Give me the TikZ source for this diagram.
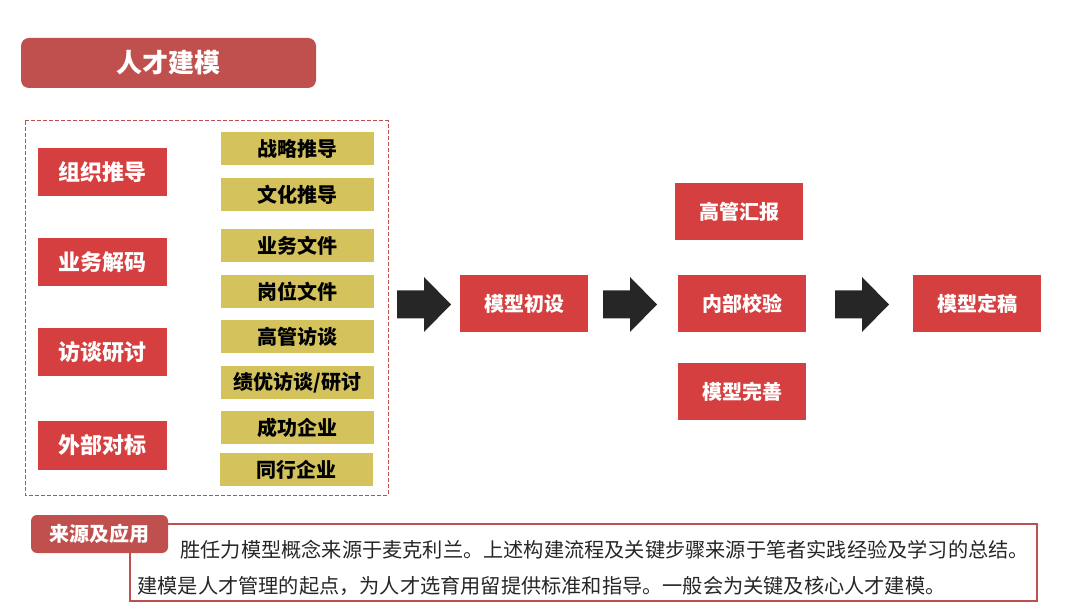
\documentclass[tikz,border=0pt]{standalone}
\usepackage{fontspec}
\setmainfont{Noto Sans CJK SC}
\usetikzlibrary{positioning}
\definecolor{titlered}{HTML}{C0504D}
\definecolor{boxred}{HTML}{D63F3F}
\definecolor{boxyellow}{HTML}{D4C35C}
\definecolor{arrowblack}{HTML}{262626}
\tikzset{
  titlebox/.style={fill=titlered, rounded corners=4pt, text=white,
    minimum width=147.5pt, minimum height=25pt, inner sep=0pt,
    font=\bfseries\fontsize{13}{15}\selectfont},
  srcbox/.style={fill=boxred, text=white, minimum width=64.5pt,
    minimum height=24pt, inner sep=0pt, font=\bfseries\fontsize{11}{13}\selectfont},
  itembox/.style={fill=boxyellow, text=black, minimum width=76.5pt,
    minimum height=16.5pt, inner sep=0pt, font=\bfseries\fontsize{10}{12}\selectfont},
  flowbox/.style={fill=boxred, text=white, minimum width=64pt,
    minimum height=28.5pt, inner sep=0pt, font=\bfseries\fontsize{10}{12}\selectfont},
  tabbox/.style={fill=titlered, rounded corners=3pt, text=white,
    minimum width=68.5pt, minimum height=19pt, inner sep=0pt,
    font=\bfseries\fontsize{10}{12}\selectfont},
  noteline/.style={anchor=west, inner sep=0pt, text=black!85,
    font=\fontsize{10.1}{12}\selectfont},
  bigarrow/.style={fill=arrowblack}
}
% block arrow starting at a named coordinate
\newcommand\flowarrow[1]{%
  \fill[bigarrow] (#1) ++(0,-14) -- ++(27,0) -- ++(0,-13.5) -- ++(27,27.5)
    -- ++(-27,27.5) -- ++(0,-13.5) -- ++(-27,0) -- cycle;}

\begin{document}
\begin{tikzpicture}[x=0.5pt, y=-0.5pt]
\useasboundingbox (0,0) rectangle (1080,608);

\node[titlebox] (title) at (168.5,63) {人才建模};

% sources
\draw[titlered, dash pattern=on 2pt off 1pt, line width=0.5pt] (25,121) rectangle (388,495);
\node[srcbox] (org) at (102.5,172) {组织推导};
\node[srcbox] (biz) at (102.5,262) {业务解码};
\node[srcbox] (talk) at (102.5,352.5) {访谈研讨};
\node[srcbox] (ext) at (102.5,445.5) {外部对标};

\node[itembox] (strat) at (297.5,148.5) {战略推导};
\node[itembox] (cult) at (297.5,194.5) {文化推导};
\node[itembox] (bizdoc) at (297.5,245.5) {业务文件};
\node[itembox] (jobdoc) at (297.5,291.5) {岗位文件};
\node[itembox] (exec) at (297.5,336.5) {高管访谈};
\node[itembox] (perf) at (297.5,382.5) {绩优访谈/研讨};
\node[itembox] (succ) at (297.5,427.5) {成功企业};
\node[itembox] (peer) at (296,469.5) {同行企业};

% flow
\node[flowbox] (init) at (524,304) {模型初设};
\node[flowbox] (check) at (742,304) {内部校验};
\node[flowbox] (report) at (739,212) {高管汇报};
\node[flowbox] (refine) at (742,392) {模型完善};
\node[flowbox] (final) at (977,304) {模型定稿};

\coordinate (a1) at (397,304.5);
\coordinate (a2) at (603,304.5);
\coordinate (a3) at (835,304.5);
\flowarrow{a1}
\flowarrow{a2}
\flowarrow{a3}

% note
\draw[titlered, line width=0.75pt] (130,524) rectangle (1037,601);
\node[tabbox] (tab) at (99.5,534) {来源及应用};
\node[noteline] (line1) at (180,550) {胜任力模型概念来源于麦克利兰。上述构建流程及关键步骤来源于笔者实践经验及学习的总结。};
\node[noteline] (line2) at (137,586) {建模是人才管理的起点，为人才选育用留提供标准和指导。一般会为关键及核心人才建模。};
\end{tikzpicture}
\end{document}
